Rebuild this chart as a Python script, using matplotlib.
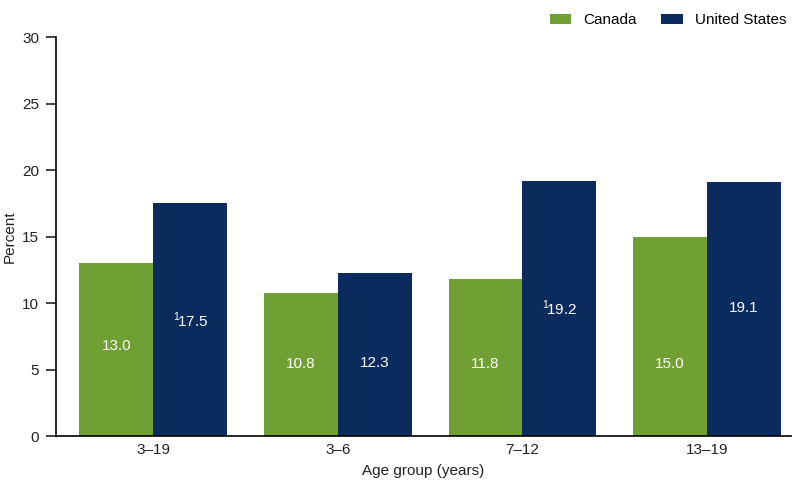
import matplotlib.pyplot as plt
import numpy as np

plt.rcParams["font.family"] = ["Liberation Sans", "DejaVu Sans"]
plt.rcParams["mathtext.fontset"] = "custom"
plt.rcParams["mathtext.rm"] = "Liberation Sans"

# Data
age_groups = ["3\u201319", "3\u20136", "7\u201312", "13\u201319"]
canada = [13.0, 10.8, 11.8, 15.0]
united_states = [17.5, 12.3, 19.2, 19.1]
us_footnote = [True, False, True, False]

# where the value labels sit inside the bars (percent units)
canada_label_y = [6.8, 5.4, 5.4, 5.4]
us_label_y = [8.7, 5.5, 9.6, 9.6]

green = "#70a034"
navy = "#0b2b5e"

fig = plt.figure(figsize=(8, 4.82), dpi=100)
ax = fig.add_axes([0.07, 0.095, 0.919, 0.828])

x = np.arange(len(age_groups))
w = 0.4
ax.bar(x - w / 2, canada, w, color=green, label="Canada")
ax.bar(x + w / 2, united_states, w, color=navy, label="United States")

# value labels inside the bars
for i in range(len(age_groups)):
    ax.text(x[i] - w / 2, canada_label_y[i], f"{canada[i]:.1f}",
            ha="center", va="center", color="white", fontsize=11)
    lab = f"{united_states[i]:.1f}"
    if us_footnote[i]:
        lab = r"$^{\mathrm{1}}\!$" + lab
    ax.text(x[i] + w / 2, us_label_y[i], lab,
            ha="center", va="center", color="white", fontsize=11)

ax.set_xlim(-0.527, 3.457)
ax.set_ylim(0, 30)
ax.set_yticks(range(0, 31, 5))
ax.set_xticks(x)
ax.set_xticklabels(age_groups)
ax.tick_params(axis="y", direction="out", length=7, width=1.2, labelsize=11,
               colors="#222222", pad=5)
ax.tick_params(axis="x", length=0, labelsize=11, colors="#222222", pad=5)

for s in ["top", "right"]:
    ax.spines[s].set_visible(False)
ax.spines["left"].set_linewidth(1.2)
ax.spines["bottom"].set_linewidth(1.2)

ax.set_ylabel("Percent", fontsize=11, color="#222222", labelpad=4)
ax.set_xlabel("Age group (years)", fontsize=11, color="#222222", labelpad=5)

ax.legend(loc="lower right", bbox_to_anchor=(1.012, 0.99), ncol=2, frameon=False,
          fontsize=11, handlelength=1.4, handleheight=0.6, columnspacing=1.6,
          handletextpad=0.8)

plt.savefig("out.png")
